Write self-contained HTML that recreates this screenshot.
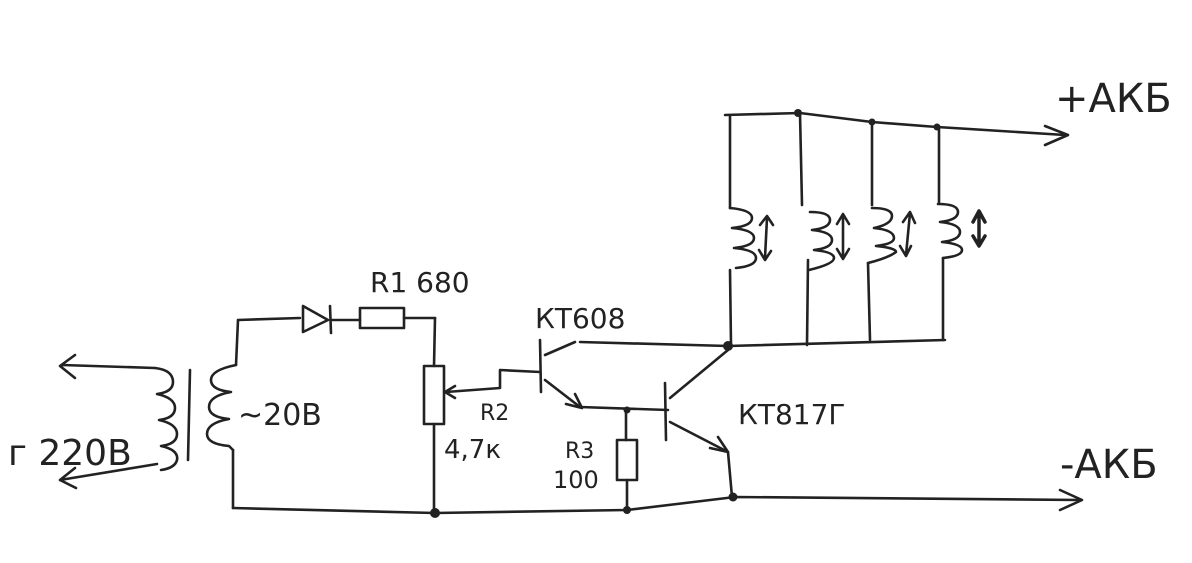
<!DOCTYPE html>
<html><head><meta charset="utf-8"><style>
html,body{margin:0;padding:0;background:#fff;}
svg{display:block}
text{font-family:"DejaVu Sans","Liberation Sans",sans-serif;fill:#222;}
</style></head><body>
<svg width="1192" height="563" viewBox="0 0 1192 563" xmlns="http://www.w3.org/2000/svg">
<rect width="1192" height="563" fill="#fff"/>
<g fill="none" stroke="#222" stroke-width="2.6" stroke-linecap="round" stroke-linejoin="round">
<!-- top rail -->
<path d="M725 115 L800 113 L872 122 L937 127 L1065 135"/>
<path d="M1045 126 L1068 135 L1045 145"/>
<!-- verticals with coils -->
<path d="M730 115 L730 208 M730 270 L731 345"/>
<path d="M730 208 q22 2 22 10 q0 8 -20 10 q22 2 22 10 q0 8 -20 10 q22 2 22 10 q0 8 -20 10"/>
<path d="M800 113 L802 205 M808 260 L807 345"/>
<path d="M810 212 q20 0 20 8 q0 8 -18 10 q20 2 20 10 q0 8 -18 10 q20 2 20 8 q0 6 -25 12"/>
<path d="M872 122 L872 205 M868 263 L870 340"/>
<path d="M872 208 q20 0 20 8 q0 8 -18 12 q20 2 20 10 q0 6 -18 8 q20 2 20 6 q-8 6 -28 11"/>
<path d="M939 128 L939 203 M943 258 L943 340"/>
<path d="M938 204 q20 0 20 8 q0 8 -18 10 q20 2 20 10 q0 8 -18 10 q20 2 20 8 q0 6 -19 8"/>
<!-- double arrows -->
<path d="M767 218 L765 258 M760 225 L767 216 L773 225 M759 250 L765 260 L771 251"/>
<path d="M843 215 L843 258 M837 224 L843 214 L849 224 M837 249 L843 259 L849 249"/>
<path d="M910 213 L906 255 M903 222 L910 212 L915 223 M900 246 L906 256 L911 246"/>
<path d="M979 213 L979 245 M973 222 L979 211 L985 222 M973 236 L979 246 L985 236" stroke-width="3.5"/>
<!-- bottom coil rail -->
<path d="M580 342 L728 346 L945 340"/>
<!-- KT608 -->
<path d="M540 340 L541 392"/>
<path d="M545 355 L575 342"/>
<path d="M545 380 L580 407 L668 410"/>
<path d="M566 404 L582 408 L575 394"/>
<path d="M540 372 L500 370 L500 388 L446 392"/>
<path d="M455 386 L445 392 L455 398"/>
<!-- KT817 -->
<path d="M665 383 L666 440"/>
<path d="M670 398 L728 350"/>
<path d="M670 422 L728 452 L732 497"/>
<path d="M710 448 L728 452 L718 437"/>
<!-- R3 -->
<path d="M626 410 L626 440 M627 480 L627 510"/>
<rect x="617" y="440" width="20" height="40"/>
<!-- R2 -->
<rect x="424" y="366" width="20" height="58"/>
<path d="M434 366 L435 318 M434 424 L434 513"/>
<!-- left top: diode and R1 -->
<path d="M238 320 L300 318"/>
<path d="M303 306 L303 332 L328 320 Z M330 306 L331 333"/>
<path d="M331 320 L360 320"/>
<rect x="360" y="308" width="44" height="20"/>
<path d="M404 318 L435 318"/>
<path d="M238 320 L236 365 M233 450 L233 508"/>
<!-- bottom rail -->
<path d="M233 508 L435 513 L627 510 L735 497 L1080 500"/>
<path d="M1060 490 L1082 500 L1060 510"/>
<!-- transformer -->
<path d="M236 365 q-25 5 -25 15 q0 10 20 12 q-22 4 -22 15 q0 10 20 12 q-22 4 -22 15 q0 10 22 12 L233 450"/>
<path d="M190 370 L188 460"/>
<path d="M155 368 q18 2 18 14 q0 10 -16 12 q18 4 18 14 q0 10 -16 12 q18 4 18 14 q0 10 -16 12 q18 4 16 14 q-2 8 -16 10"/>
<path d="M155 368 L62 365 M75 355 L60 366 L75 378"/>
<path d="M157 464 L60 480 M75 468 L60 480 L76 488"/>
<!-- dots -->
</g>
<g fill="#222">
<circle cx="798" cy="113" r="4"/><circle cx="872" cy="122" r="3.5"/><circle cx="937" cy="127" r="3.5"/>
<circle cx="728" cy="346" r="5"/><circle cx="627" cy="410" r="3.5"/>
<circle cx="435" cy="513" r="5"/><circle cx="627" cy="510" r="4"/><circle cx="733" cy="497" r="4.5"/>
</g>
<text x="1055" y="112" font-size="40">+АКБ</text>
<text x="1060" y="478" font-size="40">-АКБ</text>
<text x="8" y="465" font-size="36">г 220В</text>
<text x="238" y="425" font-size="30">~20В</text>
<text x="370" y="292" font-size="28">R1 680</text>
<text x="535" y="328" font-size="28">КТ608</text>
<text x="738" y="424" font-size="28">КТ817Г</text>
<text x="480" y="420" font-size="22">R2</text>
<text x="444" y="458" font-size="26">4,7к</text>
<text x="565" y="458" font-size="22">R3</text>
<text x="553" y="488" font-size="24">100</text>
</svg>
</body></html>
